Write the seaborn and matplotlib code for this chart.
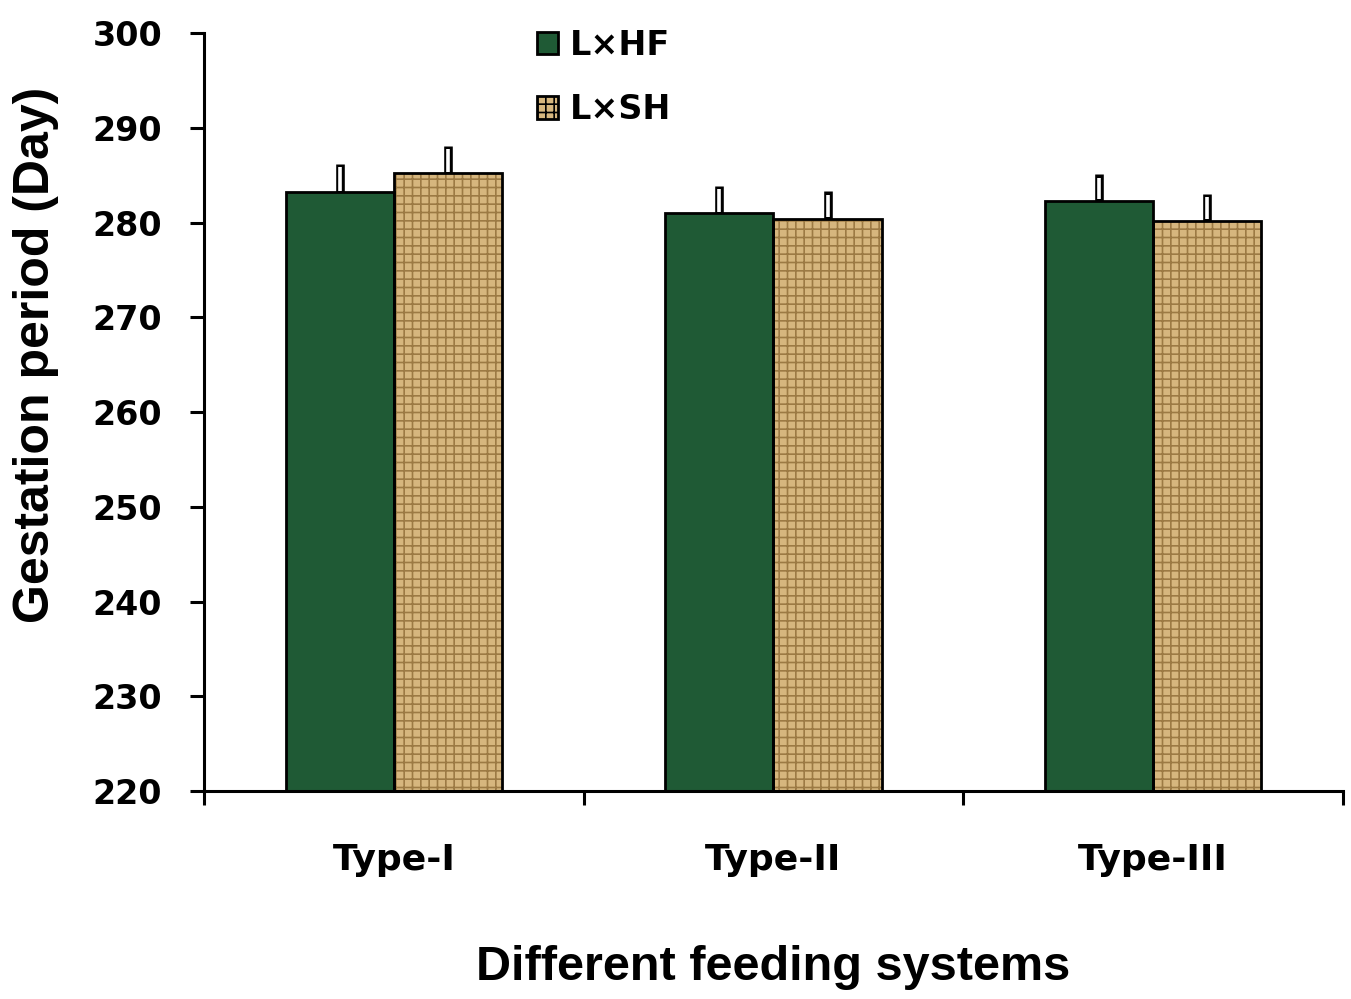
import numpy as np
import pandas as pd
import matplotlib
matplotlib.use("Agg")
import matplotlib.pyplot as plt
from matplotlib.patches import Rectangle, Patch
import seaborn as sns

categories = ["Type-I", "Type-II", "Type-III"]
series_names = ["L\u00d7HF", "L\u00d7SH"]
lxhf_values = [283.2, 281.0, 282.3]
lxsh_values = [285.2, 280.4, 280.2]
lxhf_err = [3.0, 2.9, 2.8]
lxsh_err = [2.9, 2.9, 2.8]
y_ticks = [220, 230, 240, 250, 260, 270, 280, 290, 300]

df = pd.DataFrame({
    "system": categories * 2,
    "breed": [series_names[0]] * 3 + [series_names[1]] * 3,
    "value": lxhf_values + lxsh_values,
    "err": lxhf_err + lxsh_err,
})

sns.set_theme(style="white")
plt.rcParams["font.family"] = ["DejaVu Sans"]
plt.rcParams["text.color"] = "black"
plt.rcParams["axes.labelcolor"] = "black"
plt.rcParams["xtick.color"] = "black"
plt.rcParams["ytick.color"] = "black"
plt.rcParams["hatch.linewidth"] = 1.2

fig = plt.figure(figsize=(13.51, 9.99), dpi=100)
ax = fig.add_axes([0.151, 0.208, 0.843, 0.759])

face = {series_names[0]: "#1f5a35", series_names[1]: "#d6b67e"}
hatch_col = {series_names[0]: "#2f7048", series_names[1]: "#9c7a44"}
hatches = {series_names[0]: "", series_names[1]: "++"}

sns.barplot(data=df, x="system", y="value", hue="breed", order=categories,
            hue_order=series_names, palette=face, width=0.57, errorbar=None,
            ax=ax, legend=False, saturation=1.0)

ax.set_ylim(y_ticks[0], y_ticks[-1])
ax.set_xlim(-0.5, len(categories) - 0.5)

bars = [p for p in ax.patches if isinstance(p, Rectangle)]
for i, p in enumerate(bars[:6]):
    name = series_names[i // 3]
    p.set_edgecolor(hatch_col[name])
    p.set_hatch(hatches[name])
    p.set_linewidth(0)
    ax.add_patch(Rectangle((p.get_x(), p.get_y()), p.get_width(), p.get_height(),
                           fill=False, edgecolor="black", linewidth=2.0, zorder=3))
    v = df["value"].iloc[i]
    e = df["err"].iloc[i]
    xc = p.get_x() + p.get_width() / 2
    ax.vlines(xc, v, v + e, colors="black", linewidth=6.2, zorder=4)
    ax.vlines(xc, v + 0.15, v + e - 0.35, colors="white", linewidth=2.6, zorder=5)

for s in ["top", "right"]:
    ax.spines[s].set_visible(False)
for s in ["left", "bottom"]:
    ax.spines[s].set_color("black")
    ax.spines[s].set_linewidth(2.2)

ax.set_yticks(y_ticks)
ax.set_yticklabels([str(t) for t in y_ticks], fontsize=24, fontweight="bold")
ax.tick_params(axis="y", direction="out", length=10, width=2.2, pad=20, left=True, colors="black")

ax.set_xticks(np.arange(-0.5, len(categories), 1.0))
ax.set_xticklabels([])
ax.set_xticks(np.arange(len(categories)), minor=True)
ax.set_xticklabels(categories, minor=True, fontsize=26, fontweight="bold")
ax.tick_params(axis="x", which="major", direction="out", length=10, width=2.2, bottom=True, colors="black")
ax.tick_params(axis="x", which="minor", length=0, pad=37, colors="black")

ax.set_xlabel("Different feeding systems", fontsize=35, fontweight="bold",
              family="Liberation Sans", color="black")
ax.xaxis.set_label_coords(0.5, -0.203)
ax.set_ylabel("Gestation period (Day)", fontsize=36, fontweight="bold",
              family="Liberation Sans", color="black")
ax.yaxis.set_label_coords(-0.127, 0.576)

handles = [Patch(facecolor=face[n], edgecolor="black", linewidth=2.0,
                 hatch=hatches[n]) for n in series_names]
leg = fig.legend(handles, series_names, loc="upper left",
                 bbox_to_anchor=(520 / 1351, 1 - 12 / 999), frameon=False,
                 prop={"family": "DejaVu Sans", "weight": "bold", "size": 24},
                 handlelength=0.65, handleheight=0.65, handletextpad=0.35,
                 labelspacing=0.95, borderpad=0)

fig.savefig("out.png", dpi=100)
